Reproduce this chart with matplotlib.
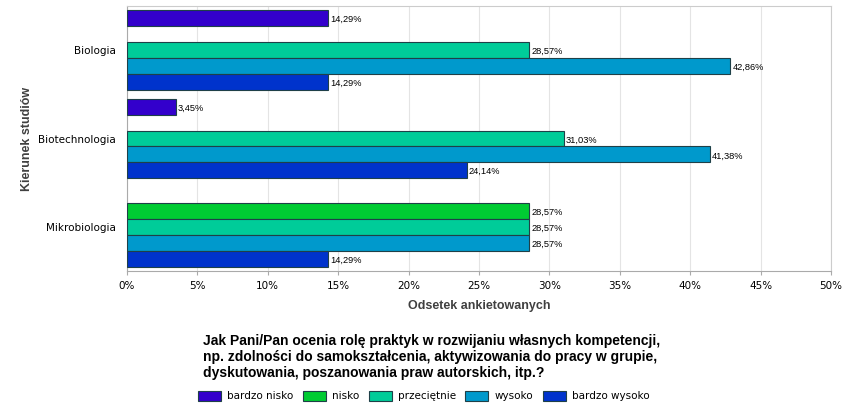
import matplotlib.pyplot as plt
from matplotlib.patches import Patch

# data
categories = ['Biologia', 'Biotechnologia', 'Mikrobiologia']
series = ['bardzo nisko', 'nisko', 'przeciętnie', 'wysoko', 'bardzo wysoko']
values = {
    'bardzo nisko': [14.29, 3.45, 0],
    'nisko': [0, 0, 28.57],
    'przeciętnie': [28.57, 31.03, 28.57],
    'wysoko': [42.86, 41.38, 28.57],
    'bardzo wysoko': [14.29, 24.14, 14.29],
}
colors = ['#3300CC', '#00CC33', '#00CC99', '#0099CC', '#0033CC']
xticks = [0, 5, 10, 15, 20, 25, 30, 35, 40, 45, 50]

title = ('Jak Pani/Pan ocenia rolę praktyk w rozwijaniu własnych kompetencji,\n'
         'np. zdolności do samokształcenia, aktywizowania do pracy w grupie,\n'
         'dyskutowania, poszanowania praw autorskich, itp.?')

fig = plt.figure(figsize=(8.53, 4.12), dpi=100)
ax = fig.add_axes([127/853, 1-271/412, (831-127)/853, (271-6)/412])

h = 0.181
for j, s in enumerate(series):
    for i, v in enumerate(values[s]):
        if v == 0:
            continue
        y = i + (j - 2) * h
        ax.barh(y, v, height=h, color=colors[j], edgecolor='#1f4048', linewidth=0.8, zorder=3)
        ax.text(v + 0.15, y + 0.015, ('%.2f%%' % v).replace('.', ','), va='center', ha='left',
                fontsize=6.7, family='Liberation Sans', zorder=4)

ax.set_ylim(2.5, -0.5)
ax.set_xlim(0, 50)
ax.set_yticks(range(len(categories)))
ax.set_yticklabels(categories, fontsize=7.5)
ax.set_xticks(xticks)
ax.set_xticklabels(['%d%%' % t for t in xticks], fontsize=7.5)
ax.tick_params(axis='y', length=0, pad=8)
ax.tick_params(axis='x', length=3, color='#aaaaaa', pad=4)
ax.grid(axis='x', color='#e4e4e4', linewidth=0.8, zorder=0)
for sp in ax.spines.values():
    sp.set_color('#cccccc')
ax.spines['left'].set_color('#aaaaaa')
ax.spines['bottom'].set_color('#aaaaaa')

ax.set_xlabel('Odsetek ankietowanych', fontsize=9, fontweight='bold', family='Liberation Sans',
              color='#404040', labelpad=7)
ax.set_ylabel('Kierunek studiów', fontsize=9, fontweight='bold', family='Liberation Sans',
              color='#404040', labelpad=4)

fig.text(203/853, 1-334/412, title, ha='left', va='top', fontsize=10,
         fontweight='bold', family='Liberation Sans', linespacing=1.2)

handles = [Patch(facecolor=c, edgecolor='#1f4048', linewidth=0.8) for c in colors]
fig.legend(handles, series, loc='center left', bbox_to_anchor=(193/853, 1-396/412),
           ncol=5, frameon=False, fontsize=7.5, handlelength=2.2, handleheight=1.1,
           handletextpad=0.6, columnspacing=0.9, borderpad=0)

fig.savefig('out.png', dpi=100)
